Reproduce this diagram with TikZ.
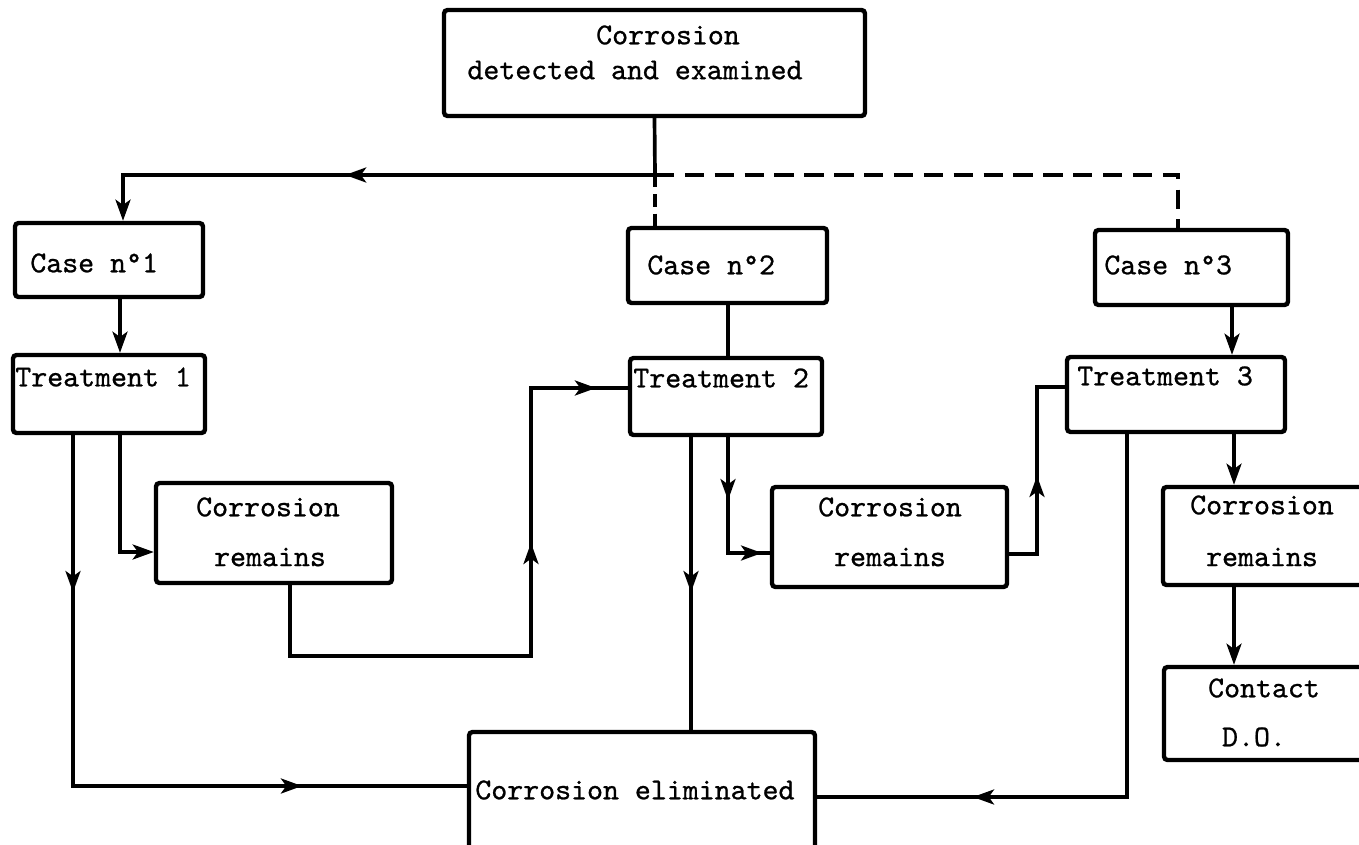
\documentclass[tikz,border=0pt]{standalone}
\usepackage{fontspec}
\newfontfamily\tw{lmmono10-regular.otf}[FakeBold=0.8]
\usetikzlibrary{arrows.meta,decorations.markings,fit}
\begin{document}
\begin{tikzpicture}[x=0.02cm,y=-0.02cm,
  box/.style={draw, line width=2.5pt, rounded corners=2pt, inner sep=0pt},
  txt/.style={font=\tw\fontsize{17.3}{20}\selectfont, inner sep=0pt},
  conn/.style={line width=2.1pt},
  tipend/.style={-{Stealth[length=12pt,width=8.5pt,inset=3pt]}},
  arrowat/.style={postaction={decorate,decoration={markings,
     mark=at position #1 with {\arrow{Stealth[length=12pt,width=8.5pt,inset=3pt]}}}}}]
\fill[white] (0,0) rectangle (1359,845);
\useasboundingbox (0,0) rectangle (1359,845);
\clip (0,0) rectangle (1359,845);

% boxes
\node[box, fit={(444,10) (865,116)}] (top) {};
\node[box, fit={(15,223) (203,297)}] (case1) {};
\node[box, fit={(628,228) (827,303)}] (case2) {};
\node[box, fit={(1095,230) (1288,305)}] (case3) {};
\node[box, fit={(13,355) (205,433)}] (t1) {};
\node[box, fit={(630,358) (822,435)}] (t2) {};
\node[box, fit={(1067,357) (1285,432)}] (t3) {};
\node[box, fit={(156,483) (392,583)}] (cr1) {};
\node[box, fit={(772,487) (1007,587)}] (cr2) {};
\node[box, fit={(1163,487) (1420,585)}] (cr3) {};
\node[box, fit={(1164,667) (1420,760)}] (contact) {};
\node[box, fit={(469,732) (815,900)}] (ce) {};

% texts
\node[txt] (topa) at (668,35) {Corrosion};
\node[txt] (topb) at (635,70) {detected and examined};
\node[txt, anchor=west] (case1t) at (30,263) {Case n°1};
\node[txt, anchor=west] (case2t) at (647,265) {Case n°2};
\node[txt, anchor=west] (case3t) at (1104,265) {Case n°3};
\node[txt, anchor=west] (t1t) at (15,377) {Treatment 1};
\node[txt, anchor=west] (t2t) at (633,378) {Treatment 2};
\node[txt, anchor=west] (t3t) at (1077,376) {Treatment 3};
\node[txt] (cr1a) at (268,507) {Corrosion};
\node[txt] (cr1b) at (270,557) {remains};
\node[txt] (cr2a) at (890,507) {Corrosion};
\node[txt] (cr2b) at (890,557) {remains};
\node[txt] (cr3a) at (1262,505) {Corrosion};
\node[txt] (cr3b) at (1262,557) {remains};
\node[txt] (contacta) at (1264,688) {Contact};
\node[txt] (contactb) at (1254,737) {D.O.};
\node[txt, anchor=west] (cet) at (475,790) {Corrosion eliminated};

% connectors
\coordinate (J) at (655,175);
\draw[conn] (top.south) -- (J);
\draw[conn, tipend, arrowat=6.2cm] (J) -| (case1.north -| 123,0);
\draw[conn, dash pattern=on 11pt off 6pt] (J) -| (case3.north -| 1178,0);
\draw[conn, dash pattern=on 7pt off 4pt] (J) -- (case2.north -| 655,0);

\draw[conn, tipend] (case1.south -| 120,0) -- (t1.north -| 120,0);
\draw[conn] (case2.south -| 728,0) -- (t2.north -| 728,0);
\draw[conn, tipend] (case3.south -| 1232,0) -- (t3.north -| 1232,0);

\draw[conn, arrowat=3.14cm, arrowat=11.6cm] (t1.south -| 73,0) |- (ce.west |- 0,786);
\draw[conn, tipend] (t1.south -| 120,0) |- (cr1.west |- 0,552);
\draw[conn, arrowat=8.5cm, arrowat=12.9cm] (cr1.south -| 290,0) -- (290,656) -| (531,388) -- (t2.west |- 0,388);

\draw[conn, arrowat=3.1cm] (t2.south -| 691,0) -- (ce.north -| 691,0);
\draw[conn, arrowat=1.26cm, arrowat=3.0cm] (t2.south -| 728,0) |- (cr2.west |- 0,553);
\draw[conn, arrowat=2.12cm] (cr2.east |- 0,554) -| (1037,387) -- (t3.west |- 0,387);

\draw[conn, arrowat=10.34cm] (t3.south -| 1127,0) |- (ce.east |- 0,797);
\draw[conn, tipend] (t3.south -| 1234,0) -- (cr3.north -| 1234,0);
\draw[conn, tipend] (cr3.south -| 1234,0) -- (contact.north -| 1234,0);
\end{tikzpicture}
\end{document}
